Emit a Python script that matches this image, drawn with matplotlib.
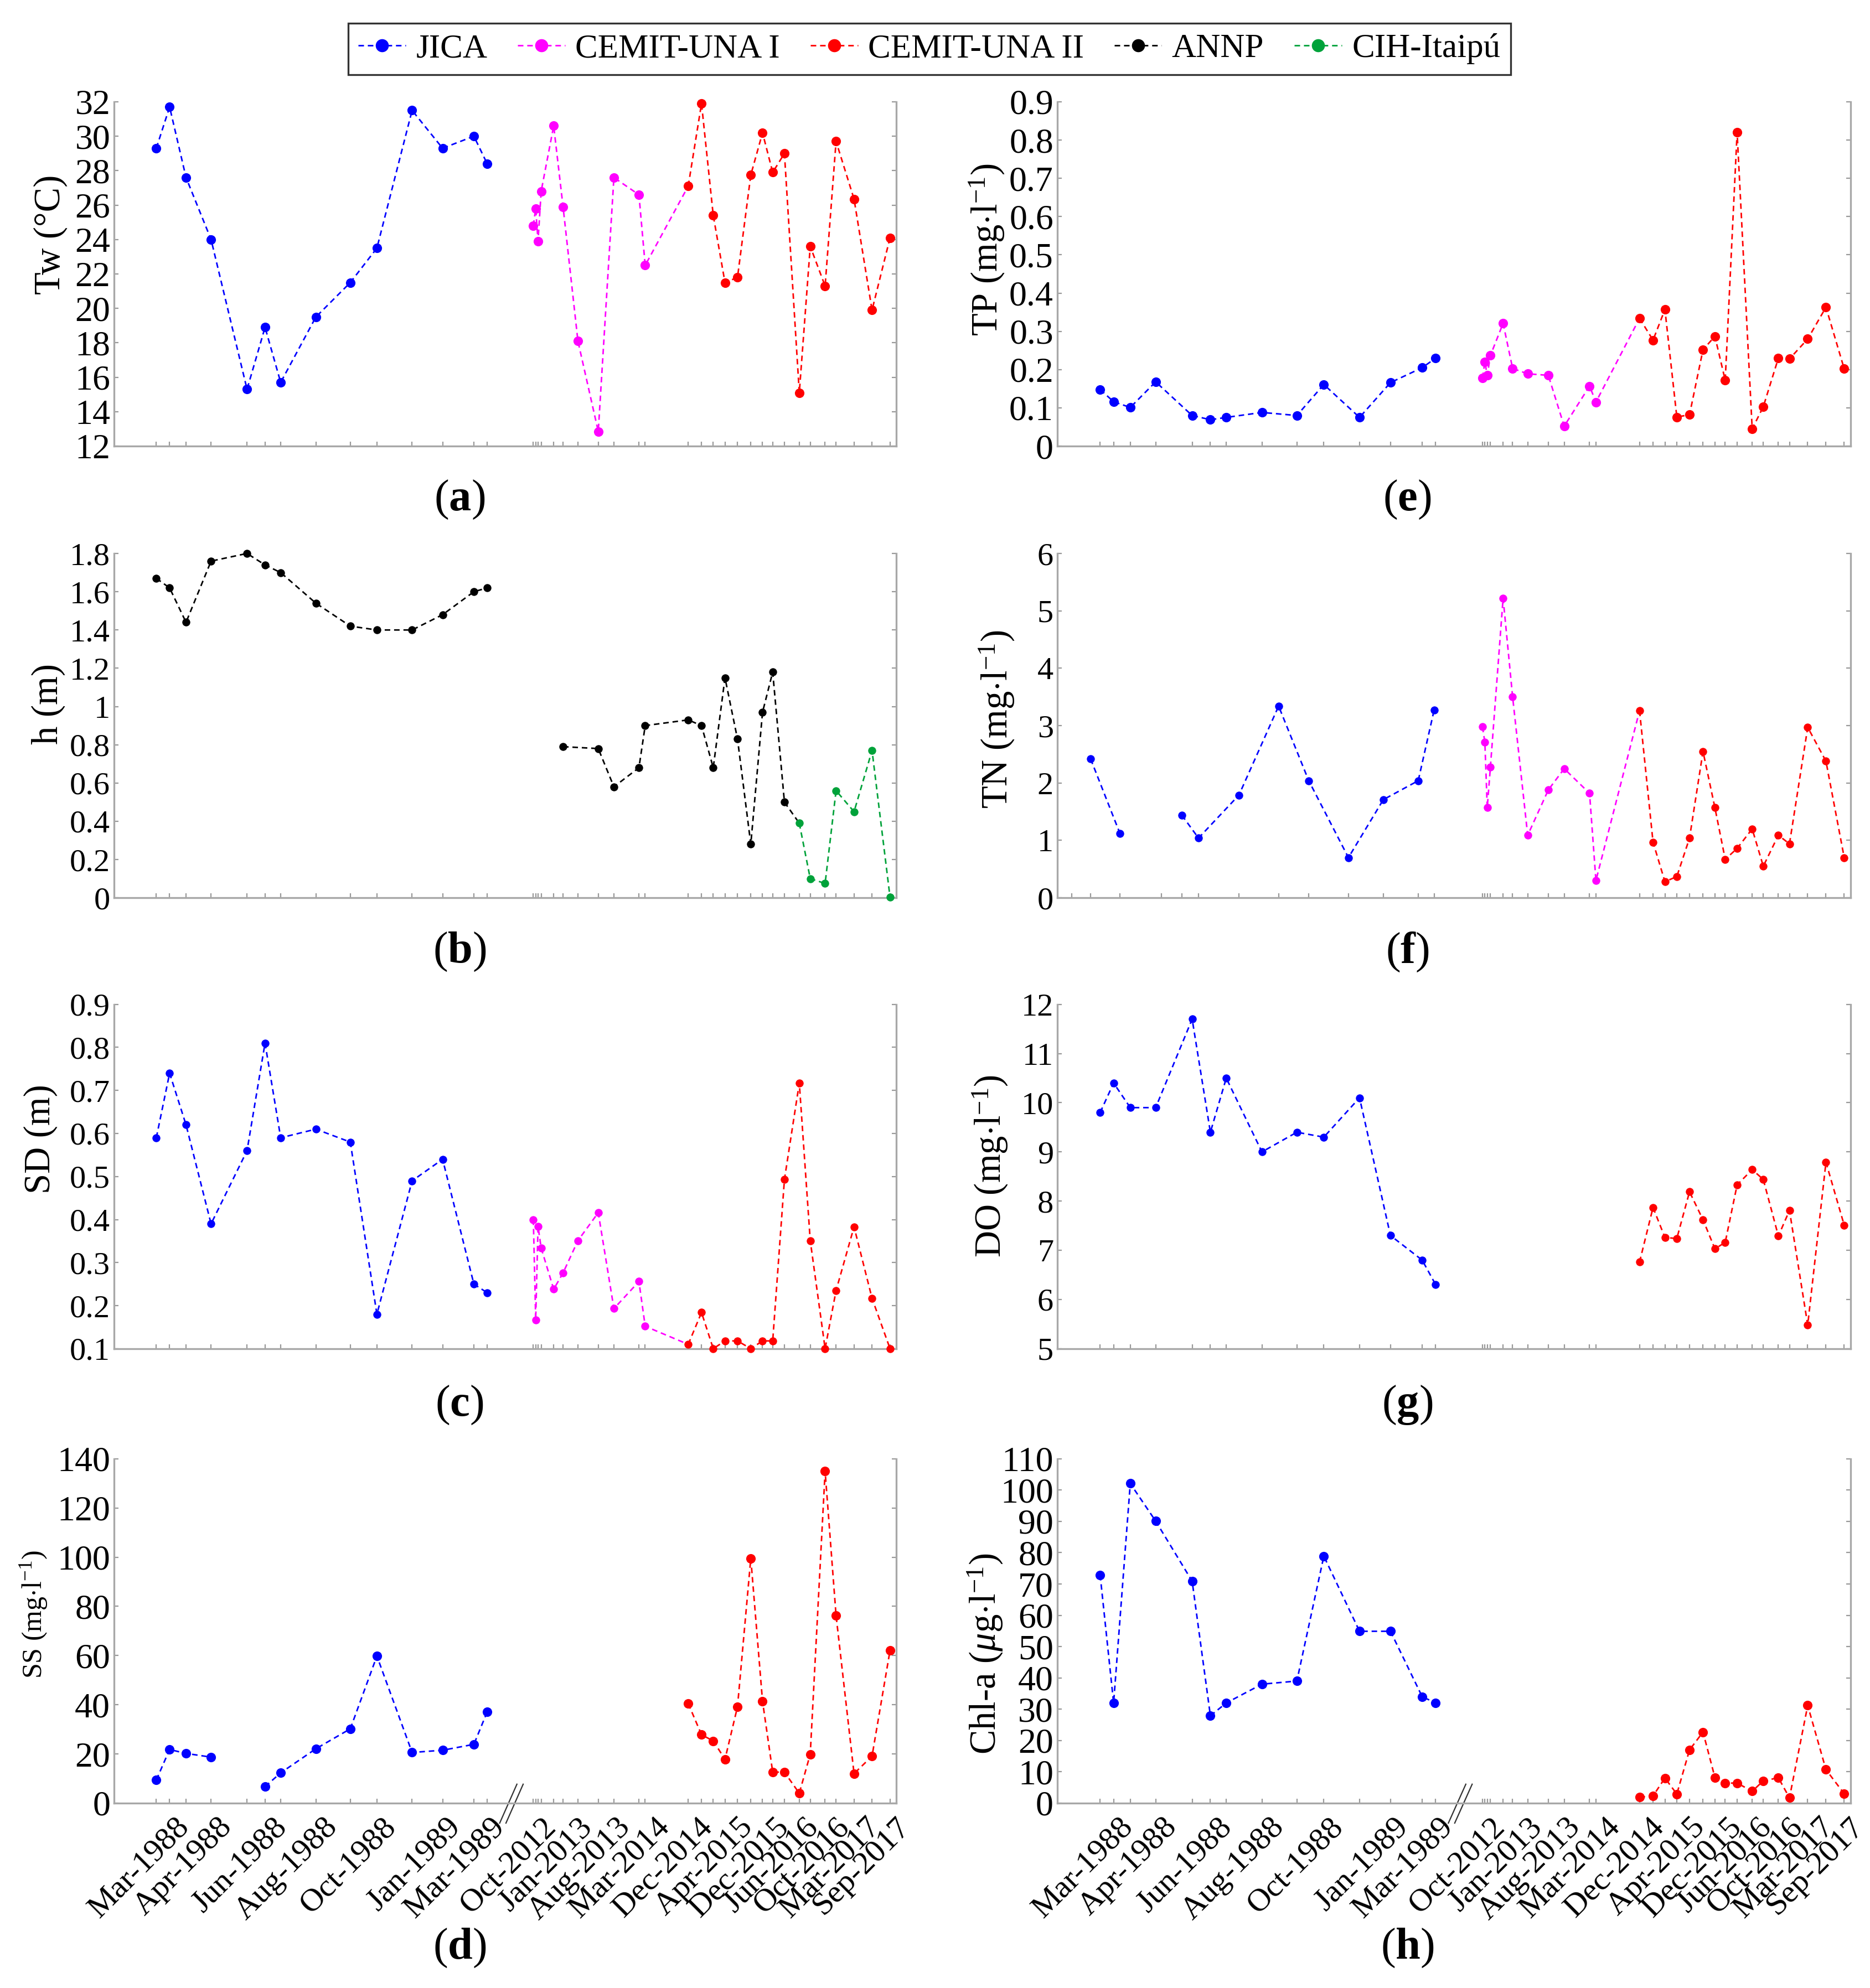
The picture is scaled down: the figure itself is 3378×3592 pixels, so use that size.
import numpy as np
import matplotlib.pyplot as plt
from matplotlib.lines import Line2D
from matplotlib.ticker import FormatStrFormatter

plt.rcParams['font.family'] = 'serif'
plt.rcParams['font.serif'] = ['Liberation Serif', 'DejaVu Serif']
plt.rcParams['mathtext.fontset'] = 'custom'
plt.rcParams['mathtext.rm'] = 'Liberation Serif'
plt.rcParams['mathtext.it'] = 'Liberation Serif:italic'
plt.rcParams['mathtext.bf'] = 'Liberation Serif:bold'

nan = np.nan

# sampling dates, on the compressed (broken) time axis, 0-1000
t_jica = [54, 71, 92, 124, 170, 193, 213, 258, 302, 336, 381, 420, 460, 477]
t_jica_tn = [18, 42, 79, 131, 157, 178, 229, 279, 317, 367, 411, 455, 475]
t_una1 = [536, 539, 542, 546, 562, 574, 593, 619, 639, 671, 679]
t_una2 = [734, 751, 766, 781, 797, 814, 829, 842, 857, 876, 890, 909, 923, 946, 969, 992]
t_annp = [574, 619, 639, 671, 679, 734, 751, 766, 781, 797, 814, 829, 842, 857]
t_cih = [876, 890, 909, 923, 946, 969, 992]

date_labels = ['Mar-1988', 'Apr-1988', 'Jun-1988', 'Aug-1988', 'Oct-1988', 'Jan-1989',
               'Mar-1989', 'Oct-2012', 'Jan-2013', 'Aug-2013', 'Mar-2014', 'Dec-2014',
               'Apr-2015', 'Dec-2015', 'Jun-2016', 'Oct-2016', 'Mar-2017', 'Sep-2017']
date_label_t = [77, 132, 202, 267, 342, 424, 480, 546, 593, 641, 691, 746,
                798, 844, 882, 921, 960, 998]

# (a) water temperature
jica_tw = [29.3, 31.7, 27.6, 24.0, 15.3, 18.9, 15.7, 19.5, 21.5, 23.5, 31.5, 29.3, 30.0, 28.4]
una1_tw = [24.8, 25.8, 23.9, 26.8, 30.6, 25.9, 18.1, 12.85, 27.6, 26.6, 22.5]
una2_tw = [27.1, 31.9, 25.4, 21.5, 21.8, 27.75, 30.2, 27.9, 29.0, 15.1, 23.6, 21.3, 29.7, 26.35, 19.9, 24.1]

# (b) water level
annp_h88 = [1.67, 1.62, 1.44, 1.76, 1.80, 1.74, 1.70, 1.54, 1.42, 1.40, 1.40, 1.48, 1.60, 1.62]
annp_h = [0.79, 0.78, 0.58, 0.68, 0.90, 0.93, 0.90, 0.68, 1.15, 0.83, 0.28, 0.97, 1.18, 0.50]
cih_h = [0.39, 0.10, 0.075, 0.56, 0.45, 0.77, 0.003]

# (c) Secchi depth
jica_sd = [0.59, 0.74, 0.62, 0.39, 0.56, 0.81, 0.59, 0.61, 0.58, 0.18, 0.49, 0.54, 0.25, 0.23]
una1_sd = [0.40, 0.167, 0.384, 0.334, 0.238, 0.276, 0.351, 0.416, 0.193, 0.256, 0.152]
una2_sd = [0.110, 0.184, 0.100, 0.118, 0.118, 0.100, 0.118, 0.118, 0.493, 0.717, 0.351, 0.100,
           0.235, 0.383, 0.217, 0.100]

# (d) suspended solids
jica_ss = [9.4, 21.8, 20.2, 18.7, nan, 6.7, 12.3, 22.1, 30.2, 59.8, 20.6, 21.5, 23.9, 37.1]
una2_ss = [40.5, 27.8, 25.3, 17.8, 39.2, 99.5, 41.4, 12.6, 12.6, 4.0, 19.9, 134.9, 76.3, 12.0, 19.1, 62.1]

# (e) total phosphorus
jica_tp = [0.148, 0.116, 0.101, 0.168, 0.080, 0.069, 0.075, 0.088, 0.080, 0.161, 0.075, 0.166, 0.205, 0.230]
una1_tp = [0.178, 0.220, 0.185, 0.237, 0.321, 0.203, 0.189, 0.185, 0.052, 0.157, 0.115]
una2_tp = [0.334, 0.277, 0.357, 0.076, 0.082, 0.252, 0.287, 0.172, 0.820, 0.045, 0.103, 0.230,
           0.228, 0.280, 0.363, 0.202]

# (f) total nitrogen
jica_tn = [nan, 2.42, 1.12, nan, 1.44, 1.04, 1.79, 3.34, 2.04, 0.70, 1.71, 2.04, 3.27]
una1_tn = [2.98, 2.71, 1.57, 2.28, 5.22, 3.50, 1.09, 1.88, 2.25, 1.82, 0.30]
una2_tn = [3.26, 0.97, 0.28, 0.37, 1.04, 2.55, 1.57, 0.67, 0.86, 1.20, 0.55, 1.09, 0.94, 2.97, 2.38, 0.70]

# (g) dissolved oxygen
jica_do = [9.8, 10.4, 9.9, 9.9, 11.7, 9.4, 10.5, 9.0, 9.4, 9.3, 10.1, 7.3, 6.8, 6.3]
una2_do = [6.76, 7.87, 7.26, 7.24, 8.19, 7.62, 7.03, 7.16, 8.33, 8.64, 8.44, 7.29, 7.81, 5.48, 8.79, 7.51]

# (h) chlorophyll-a
jica_chl = [72.9, 32.0, 102.1, 90.1, 70.9, 27.9, 32.0, 38.0, 39.0, 78.9, 54.9, 54.9, 34.0, 32.0]
una2_chl = [1.9, 2.3, 8.0, 2.9, 17.0, 22.7, 8.2, 6.4, 6.4, 3.8, 7.1, 8.1, 1.7, 31.2, 10.7, 3.0]

BLUE, MAG, RED, BLK, GRN = '#0000ff', '#ff00ff', '#ff0000', '#000000', '#00a23a'
DASH = (3.6, 2.5)
AXC = '#a8a8a8'

fig = plt.figure(figsize=(3378 / 200, 3592 / 200), dpi=200)

col_left = [0.0610, 0.5654]
col_width = [0.4183, 0.4242]
row_bottom = [0.7756, 0.5484, 0.3216, 0.0930]
row_h = 0.1732


def draw(ax, t, y, color, ms, t_next=None, y_next=None):
    tt, yy = list(t), list(y)
    if t_next is not None:
        tt.append(t_next)
        yy.append(y_next)
    ax.plot(tt, yy, color=color, lw=1.0, dashes=DASH, marker='o', ms=ms, mew=0,
            markevery=list(range(len(t))), clip_on=False, zorder=3)


def make_axes(row, col, ylim, ystep, fmt, ticks_t, tsize, ylabel, ysize, lab_xy, letter, bottom=False):
    ax = fig.add_axes([col_left[col], row_bottom[row], col_width[col], row_h])
    ax.set_xlim(0, 1000)
    ax.set_ylim(*ylim)
    ax.set_yticks(np.round(np.arange(ylim[0], ylim[1] + ystep / 2, ystep), 3))
    ax.yaxis.set_major_formatter(FormatStrFormatter(fmt))
    ax.set_xticks(ticks_t)
    ax.set_xticklabels([])
    ax.spines['top'].set_visible(False)
    for s in ['left', 'right', 'bottom']:
        ax.spines[s].set_color(AXC)
        ax.spines[s].set_linewidth(1.2)
    ax.tick_params(which='major', direction='in', length=2.9, width=0.8, color='#999999',
                   right=True, labelsize=tsize, pad=2.5)
    ax.set_ylabel(ylabel, fontsize=ysize, va='center')
    ax.yaxis.set_label_coords(*lab_xy)
    if bottom:
        ax.xaxis.remove_overlapping_locs = False
        ax.set_xticks(date_label_t, labels=date_labels, minor=True)
        ax.tick_params(axis='x', which='minor', length=0, labelsize=21, pad=6)
        for lab in ax.get_xticklabels(minor=True):
            lab.set_rotation(45)
            lab.set_ha('right')
            lab.set_va('top')
            lab.set_rotation_mode('anchor')
        # axis break mark
        for dx in (0.0, 0.008):
            ax.plot([0.493 + dx, 0.515 + dx], [-0.058, 0.055], transform=ax.transAxes,
                    color='#333333', lw=0.8, clip_on=False)
    lx = [0.2457, 0.7525][col]
    ly = [0.7486, 0.5212, 0.2932, 0.0200][row]
    fig.text(lx, ly, r'$(\mathbf{%s})$' % letter, ha='center', va='center', fontsize=29)
    return ax


all_t = t_jica + t_una1 + t_una2
tn_t = t_jica_tn + t_una1 + t_una2
big, small = 6.2, 5.2

# (a)
ax = make_axes(0, 0, (12, 32), 2, '%g', all_t, 23, 'Tw (°C)', 24, (-0.081, 0.615), 'a')
draw(ax, t_jica, jica_tw, BLUE, big)
draw(ax, t_una1, una1_tw, MAG, big, t_una2[0], una2_tw[0])
draw(ax, t_una2, una2_tw, RED, big)

# (b)
ax = make_axes(1, 0, (0, 1.8), 0.2, '%g', all_t, 21, 'h (m)', 24, (-0.084, 0.563), 'b')
draw(ax, t_jica, annp_h88, BLK, small)
draw(ax, t_annp, annp_h, BLK, small, t_cih[0], cih_h[0])
draw(ax, t_cih, cih_h, GRN, small)

# (c)
ax = make_axes(2, 0, (0.1, 0.9), 0.1, '%g', all_t, 21, 'SD (m)', 24, (-0.094, 0.609), 'c')
draw(ax, t_jica, jica_sd, BLUE, small)
draw(ax, t_una1, una1_sd, MAG, small, t_una2[0], una2_sd[0])
draw(ax, t_una2, una2_sd, RED, small)

# (d)
ax = make_axes(3, 0, (0, 140), 20, '%g', all_t, 23, r'SS (mg$\cdot$l$^{-1}$)', 18, (-0.103, 0.548), 'd',
               bottom=True)
draw(ax, t_jica, jica_ss, BLUE, big)
draw(ax, t_una2, una2_ss, RED, big)

# (e)
ax = make_axes(0, 1, (0, 0.9), 0.1, '%g', all_t, 23, r'TP (mg$\cdot$l$^{-1}$)', 24, (-0.089, 0.571), 'e')
draw(ax, t_jica, jica_tp, BLUE, big)
draw(ax, t_una1, una1_tp, MAG, big, t_una2[0], una2_tp[0])
draw(ax, t_una2, una2_tp, RED, big)

# (f)
ax = make_axes(1, 1, (0, 6), 1, '%g', tn_t, 21, r'TN (mg$\cdot$l$^{-1}$)', 24, (-0.076, 0.519), 'f')
draw(ax, t_jica_tn, jica_tn, BLUE, small)
draw(ax, t_una1, una1_tn, MAG, small, t_una2[0], una2_tn[0])
draw(ax, t_una2, una2_tn, RED, small)

# (g)
ax = make_axes(2, 1, (5, 12), 1, '%g', all_t, 21, r'DO (mg$\cdot$l$^{-1}$)', 24, (-0.085, 0.53), 'g')
draw(ax, t_jica, jica_do, BLUE, small)
draw(ax, t_una2, una2_do, RED, small)

# (h)
ax = make_axes(3, 1, (0, 110), 10, '%g', all_t, 23, r'Chl-a ($\mu$g$\cdot$l$^{-1}$)', 24, (-0.091, 0.433),
               'h', bottom=True)
draw(ax, t_jica, jica_chl, BLUE, big)
draw(ax, t_una2, una2_chl, RED, big)

# legend
names = ['JICA', 'CEMIT-UNA I', 'CEMIT-UNA II', 'ANNP', 'CIH-Itaipú']
colors = [BLUE, MAG, RED, BLK, GRN]
handles = [Line2D([], [], color=c, lw=1.0, dashes=DASH, marker='o', ms=8.5, mew=0) for c in colors]
leg = fig.legend(handles, names, loc='center', bbox_to_anchor=(0.497, 0.9754), ncol=5, fontsize=22,
                 frameon=True, fancybox=False, edgecolor='black', handlelength=1.4,
                 handletextpad=0.3, columnspacing=0.9, borderpad=0.3)
leg.get_frame().set_linewidth(1.2)

fig.savefig('out.png', dpi=200, facecolor='white')
